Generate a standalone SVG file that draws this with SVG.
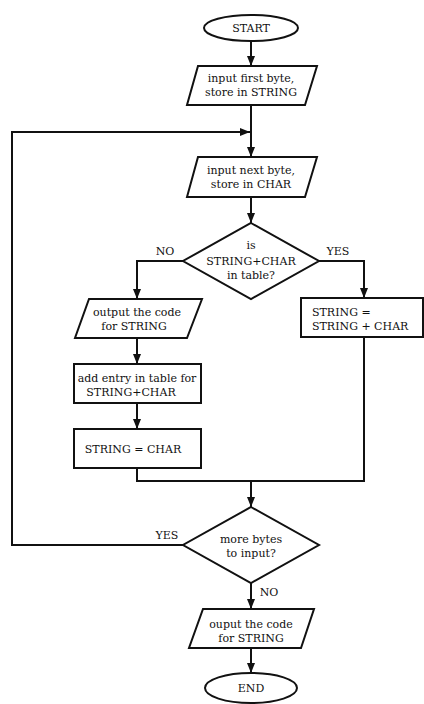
<svg xmlns="http://www.w3.org/2000/svg" width="424" height="704" viewBox="0 0 424 704">
<defs>
<marker id="arr" markerUnits="userSpaceOnUse" markerWidth="10" markerHeight="8" refX="10" refY="4" orient="auto">
<path d="M0,0 L10,4 L0,8 z" fill="#111"/>
</marker>
<style>
.s{fill:#fff;stroke:#111;stroke-width:2}
.c{fill:none;stroke:#111;stroke-width:2}
.a{marker-end:url(#arr)}
.m{text-anchor:middle}
</style>
</defs>
<rect width="424" height="704" fill="#fff"/>
<g id="connectors">
<path class="c a" d="M251,41 V66"/>
<path class="c a" d="M251,105 V157"/>
<path class="c a" d="M251,197 V223"/>
<path class="c a" d="M183,261 H137 V299"/>
<path class="c a" d="M319,261 H364 V298"/>
<path class="c a" d="M137,338 V364"/>
<path class="c a" d="M137,403 V429"/>
<path class="c" d="M137,468 V481 H364 V337"/>
<path class="c a" d="M251,481 V507"/>
<path class="c a" d="M183,545 H12 V132 H250"/>
<path class="c a" d="M251,583 V609"/>
<path class="c a" d="M251,648 V673"/>
</g>
<g font-family="DejaVu Serif, Liberation Serif, serif" font-size="11" fill="#111">
<g id="start">
<ellipse class="s" cx="251" cy="28" rx="47" ry="13"/>
<text class="m" x="251" y="32">START</text>
</g>
<g id="input-first">
<polygon class="s" points="198,66 317,66 305,105 187,105"/>
<text class="m" x="251" y="82">input first byte,</text>
<text class="m" x="251" y="96">store in STRING</text>
</g>
<g id="input-next">
<polygon class="s" points="198,157 317,157 305,197 187,197"/>
<text class="m" x="251" y="174">input next byte,</text>
<text class="m" x="251" y="188">store in CHAR</text>
</g>
<g id="decision-table">
<polygon class="s" points="251,223 319,261 251,299 183,261"/>
<text class="m" x="251" y="249">is</text>
<text class="m" x="251" y="265">STRING+CHAR</text>
<text class="m" x="251" y="279">in table?</text>
</g>
<g id="label-no1"><text class="m" x="165" y="255">NO</text></g>
<g id="label-yes1"><text class="m" x="338" y="255">YES</text></g>
<g id="output-code">
<polygon class="s" points="89,299 202,299 187,338 75,338"/>
<text class="m" x="137" y="316">output the code</text>
<text class="m" x="134" y="330">for STRING</text>
</g>
<g id="string-plus">
<rect class="s" x="301" y="298" width="122" height="39"/>
<text x="312" y="316">STRING =</text>
<text x="312" y="330">STRING + CHAR</text>
</g>
<g id="add-entry">
<rect class="s" x="74" y="364" width="127" height="39"/>
<text class="m" x="137" y="382">add entry in table for</text>
<text class="m" x="131" y="396">STRING+CHAR</text>
</g>
<g id="string-char">
<rect class="s" x="74" y="429" width="127" height="39"/>
<text class="m" x="133" y="453">STRING = CHAR</text>
</g>
<g id="decision-more">
<polygon class="s" points="251,507 319,545 251,583 183,545"/>
<text class="m" x="251" y="543">more bytes</text>
<text class="m" x="251" y="557">to input?</text>
</g>
<g id="label-yes2"><text class="m" x="167" y="539">YES</text></g>
<g id="label-no2"><text class="m" x="269" y="596">NO</text></g>
<g id="output-final">
<polygon class="s" points="203,609 314,609 301,648 189,648"/>
<text class="m" x="251" y="628">ouput the code</text>
<text class="m" x="251" y="642">for STRING</text>
</g>
<g id="end">
<ellipse class="s" cx="251" cy="688" rx="46" ry="15"/>
<text class="m" x="251" y="692">END</text>
</g>
</g>
</svg>
